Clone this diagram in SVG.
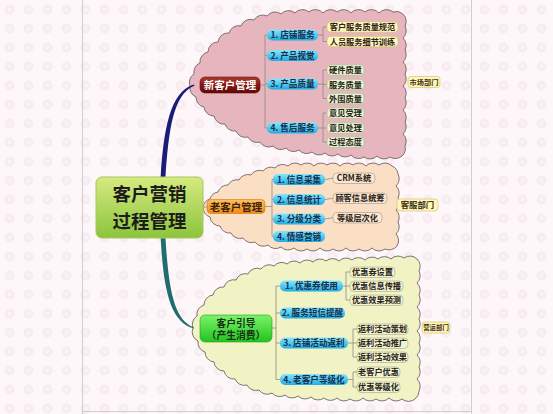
<svg xmlns="http://www.w3.org/2000/svg" width="553" height="414" viewBox="0 0 553 414">
<defs>
<pattern id="bgp" width="19" height="19" patternUnits="userSpaceOnUse">
<rect width="19" height="19" fill="#fdf7fa"/>
<circle cx="9.5" cy="9.5" r="5" fill="#f8ebf1"/>
<circle cx="9.5" cy="9.5" r="2" fill="#fcf3f7"/>
</pattern>
<linearGradient id="gCenter" x1="0" y1="0" x2="0" y2="1"><stop offset="0" stop-color="#d6ea80"/><stop offset="1" stop-color="#8cc43c"/></linearGradient>
<linearGradient id="gRed" x1="0" y1="0" x2="0" y2="1"><stop offset="0" stop-color="#b23a2a"/><stop offset="0.5" stop-color="#8a1510"/><stop offset="1" stop-color="#5e0808"/></linearGradient>
<linearGradient id="gOrange" x1="0" y1="0" x2="0" y2="1"><stop offset="0" stop-color="#ffc060"/><stop offset="1" stop-color="#f08a12"/></linearGradient>
<linearGradient id="gGreen" x1="0" y1="0" x2="0" y2="1"><stop offset="0" stop-color="#7cf26a"/><stop offset="1" stop-color="#22c41e"/></linearGradient>
<linearGradient id="gBlue" x1="0" y1="0" x2="0" y2="1"><stop offset="0" stop-color="#8ae4fb"/><stop offset="1" stop-color="#1eaee6"/></linearGradient>
</defs>
<style>
text{font-family:"Noto Sans CJK SC","Noto Sans",sans-serif;font-weight:bold;}
.cloud{stroke:#6e6466;stroke-width:0.9;}
.blue{fill:url(#gBlue);}
.bt{font-size:8.6px;fill:#15304c;text-anchor:middle;}
.ct{font-size:8.2px;fill:#2a2418;text-anchor:middle;}
.yel{fill:#fff7bf;stroke:#d9c372;stroke-width:0.8;}
.grn{fill:#e6f4d3;stroke:#b3c59a;stroke-width:0.8;}
.bei{fill:#fbe7d3;stroke:#b9a78f;stroke-width:0.8;}
.lgr{fill:#f1f4d2;stroke:#b7b892;stroke-width:0.8;}
.dep{fill:#fff6b8;stroke:#dccb78;stroke-width:0.8;}
.ln{stroke:#8d8a86;stroke-width:0.8;fill:none;}
</style>
<rect width="553" height="414" fill="url(#bgp)"/>
<g id="frame" stroke="#d2cdcf" stroke-width="1" fill="none">
<line x1="82.5" y1="0" x2="82.5" y2="414"/>
<line x1="471.5" y1="0" x2="471.5" y2="414"/>
<line x1="82" y1="411.5" x2="472" y2="411.5"/>
</g>
<g id="clouds">
<path class="cloud" fill="#e7b5bd" d="M190,86 A10,10 0 0 1 194,74 A10,10 0 0 1 200,63 A10,10 0 0 1 208,52 A10,10 0 0 1 218,42 A10,10 0 0 1 229,33 A10,10 0 0 1 241,26 A10,10 0 0 1 254,20 A10,10 0 0 1 267,16 A10,10 0 0 1 281,14 A10,10 0 0 1 295,13 A10,10 0 0 1 309,12 A10,10 0 0 1 323,13 A10,10 0 0 1 337,12 A10,10 0 0 1 351,13 A10,10 0 0 1 365,12 A10,10 0 0 1 379,13 A10,10 0 0 1 393,12 A10,10 0 0 1 403,14 A10,10 0 0 1 405,26 A10,10 0 0 1 403,38 A10,10 0 0 1 405,50 A10,10 0 0 1 403,62 A10,10 0 0 1 405,74 A10,10 0 0 1 403,86 A10,10 0 0 1 405,98 A10,10 0 0 1 403,110 A10,10 0 0 1 405,122 A10,10 0 0 1 403,134 A10,10 0 0 1 405,146 A10,10 0 0 1 402,156 A10,10 0 0 1 390,157 A10,10 0 0 1 377,156 A10,10 0 0 1 364,157 A10,10 0 0 1 351,155 A10,10 0 0 1 338,154 A10,10 0 0 1 325,153 A10,10 0 0 1 312,152 A10,10 0 0 1 299,150 A10,10 0 0 1 286,148 A10,10 0 0 1 273,146 A10,10 0 0 1 260,142 A10,10 0 0 1 248,137 A10,10 0 0 1 236,131 A10,10 0 0 1 225,124 A10,10 0 0 1 214,116 A10,10 0 0 1 204,107 A10,10 0 0 1 196,97 A10,10 0 0 1 190,86 Z"/>
<path class="cloud" fill="#fbdfc5" d="M203,207 A10,10 0 0 1 210,199 A10,10 0 0 1 218,192 A10,10 0 0 1 228,185 A10,10 0 0 1 239,180 A10,10 0 0 1 251,175 A10,10 0 0 1 263,171 A10,10 0 0 1 275,168 A10,10 0 0 1 288,166 A10,10 0 0 1 301,165 A10,10 0 0 1 314,166 A10,10 0 0 1 327,165 A10,10 0 0 1 340,166 A10,10 0 0 1 353,165 A10,10 0 0 1 366,166 A10,10 0 0 1 379,165 A10,10 0 0 1 392,166 A10,10 0 0 1 398,174 A10,10 0 0 1 396,186 A10,10 0 0 1 398,198 A10,10 0 0 1 396,210 A10,10 0 0 1 398,222 A10,10 0 0 1 396,234 A10,10 0 0 1 397,246 A10,10 0 0 1 385,249 A10,10 0 0 1 372,248 A10,10 0 0 1 359,249 A10,10 0 0 1 346,248 A10,10 0 0 1 333,249 A10,10 0 0 1 320,248 A10,10 0 0 1 307,249 A10,10 0 0 1 294,248 A10,10 0 0 1 281,247 A10,10 0 0 1 268,245 A10,10 0 0 1 255,242 A10,10 0 0 1 243,238 A10,10 0 0 1 231,233 A10,10 0 0 1 220,226 A10,10 0 0 1 210,217 A10,10 0 0 1 203,207 Z"/>
<path class="cloud" fill="#f2f3c4" d="M193,328 A10,10 0 0 1 197,316 A10,10 0 0 1 204,305 A10,10 0 0 1 213,295 A10,10 0 0 1 224,287 A10,10 0 0 1 236,280 A10,10 0 0 1 248,274 A10,10 0 0 1 261,269 A10,10 0 0 1 274,266 A10,10 0 0 1 287,264 A10,10 0 0 1 300,263 A10,10 0 0 1 313,262 A10,10 0 0 1 326,261 A10,10 0 0 1 339,261 A10,10 0 0 1 352,260 A10,10 0 0 1 365,260 A10,10 0 0 1 378,259 A10,10 0 0 1 391,259 A10,10 0 0 1 404,258 A10,10 0 0 1 417,259 A10,10 0 0 1 419,271 A10,10 0 0 1 417,283 A10,10 0 0 1 419,295 A10,10 0 0 1 417,307 A10,10 0 0 1 419,319 A10,10 0 0 1 417,331 A10,10 0 0 1 419,343 A10,10 0 0 1 417,355 A10,10 0 0 1 419,367 A10,10 0 0 1 417,379 A10,10 0 0 1 419,391 A10,10 0 0 1 415,399 A10,10 0 0 1 402,399 A10,10 0 0 1 389,398 A10,10 0 0 1 376,399 A10,10 0 0 1 363,398 A10,10 0 0 1 350,399 A10,10 0 0 1 337,398 A10,10 0 0 1 324,398 A10,10 0 0 1 311,397 A10,10 0 0 1 298,396 A10,10 0 0 1 285,395 A10,10 0 0 1 272,393 A10,10 0 0 1 259,390 A10,10 0 0 1 247,385 A10,10 0 0 1 235,379 A10,10 0 0 1 224,371 A10,10 0 0 1 214,362 A10,10 0 0 1 205,352 A10,10 0 0 1 198,341 A10,10 0 0 1 193,328 Z"/>
</g>
<g id="connectors">
<path fill="#1b1b78" d="M160.6,178 C163.5,130 170,91 194,84.4 L194.4,85.8 C173,94 168.6,131 165.4,178 Z"/>
<path fill="#1f6d70" d="M160.6,237 C163.5,290 170,322 194,328.6 L193.8,327.4 C174,320 168.6,290 165.4,237 Z"/>
<line class="ln" x1="202" y1="207" x2="208" y2="207"/>
<g class="ln">
<path d="M260,85 H265 M265,35 V128 M265,35 H267 M265,55.5 H267 M265,84 H267 M265,128 H267"/>
<path d="M318,35 H323 M323,27 V41.5 M323,27 H327 M323,41.5 H327"/>
<path d="M318,84 H323 M323,70 V98.5 M323,70 H327 M323,84.5 H327 M323,98.5 H327"/>
<path d="M318,128 H323 M323,113 V142 M323,113 H327 M323,128 H327 M323,142 H327"/>
<path d="M265,206.5 H272 M272,179.5 V236.5 M272,179.5 H273 M272,199.5 H273 M272,219 H273 M272,236.5 H273"/>
<path d="M325,179.5 L333,178.2 M325,199.5 L333,198.2 M325,219 L333,217.7"/>
<path d="M272,328 H276 M276,286 V379.5 M276,286 H280 M276,313 H280 M276,343 H280 M276,379.5 H280"/>
<path d="M343,286 H346 M346,272 V300 M346,272 H350 M346,286 H350 M346,300 H350"/>
<path d="M348,343 H353 M353,329 V357 M353,329 H357 M353,343 H357 M353,357 H357"/>
<path d="M348,379.5 H353 M353,372 V387 M353,372 H357 M353,387 H357"/>
</g>
</g>
<g id="center">
<rect x="96" y="177" width="107" height="61" rx="6" fill="url(#gCenter)" stroke="#a6c860" stroke-width="1"/>
<text x="149.5" y="201" font-size="18.5" fill="#1c1c1c" text-anchor="middle">客户营销</text>
<text x="149.5" y="228" font-size="18.5" fill="#1c1c1c" text-anchor="middle">过程管理</text>
</g>
<g id="new-customer">
<rect x="200" y="77" width="60" height="16" rx="5" fill="url(#gRed)" stroke="#5a1010" stroke-width="0.6"/>
<text x="230" y="89" font-size="10.5" fill="#ffffff" text-anchor="middle">新客户管理</text>
</g>
<g id="n1-1"><rect class="blue" x="267" y="29.5" width="51" height="11" rx="5"/><text class="bt" x="292.5" y="38.2">1. 店铺服务</text></g>
<g id="n1-2"><rect class="blue" x="267" y="50" width="51" height="11" rx="5"/><text class="bt" x="292.5" y="58.7">2. 产品视觉</text></g>
<g id="n1-3"><rect class="blue" x="267" y="78.5" width="51" height="11" rx="5"/><text class="bt" x="292.5" y="87.2">3. 产品质量</text></g>
<g id="n1-4"><rect class="blue" x="267" y="122.5" width="51" height="11" rx="5"/><text class="bt" x="292.5" y="131.2">4. 售后服务</text></g>
<g id="c1a"><rect class="yel" x="327" y="21.8" width="71" height="10.5" rx="4"/><text class="ct" x="362.5" y="30">客户服务质量规范</text></g>
<g id="c1b"><rect class="yel" x="327" y="36.3" width="71" height="10.5" rx="4"/><text class="ct" x="362.5" y="44.5">人员服务细节训练</text></g>
<g id="c1c"><rect class="grn" x="327" y="64.8" width="37" height="10.5" rx="4"/><text class="ct" x="345.5" y="73">硬件质量</text></g>
<g id="c1d"><rect class="grn" x="327" y="79.3" width="37" height="10.5" rx="4"/><text class="ct" x="345.5" y="87.5">服务质量</text></g>
<g id="c1e"><rect class="grn" x="327" y="93.3" width="37" height="10.5" rx="4"/><text class="ct" x="345.5" y="101.5">外围质量</text></g>
<g id="c1f"><rect class="grn" x="327" y="107.8" width="37" height="10.5" rx="4"/><text class="ct" x="345.5" y="116">意见受理</text></g>
<g id="c1g"><rect class="grn" x="327" y="122.8" width="37" height="10.5" rx="4"/><text class="ct" x="345.5" y="131">意见处理</text></g>
<g id="c1h"><rect class="grn" x="327" y="136.8" width="37" height="10.5" rx="4"/><text class="ct" x="345.5" y="145">过程态度</text></g>
<g id="dept1"><rect class="dep" x="408" y="76.5" width="32" height="11" rx="3"/><text x="424" y="84.7" font-size="7.2" fill="#3a3020" text-anchor="middle">市场部门</text></g>
<g id="old-customer">
<rect x="207" y="199.5" width="58" height="14" rx="4" fill="url(#gOrange)" stroke="#d07a10" stroke-width="0.6"/>
<text x="236" y="210.5" font-size="10.5" fill="#3a2410" text-anchor="middle">老客户管理</text>
</g>
<g id="n2-1"><rect class="blue" x="273" y="174" width="52" height="11" rx="5"/><text class="bt" x="299" y="182.7">1. 信息采集</text></g>
<g id="n2-2"><rect class="blue" x="273" y="194" width="52" height="11" rx="5"/><text class="bt" x="299" y="202.7">2. 信息统计</text></g>
<g id="n2-3"><rect class="blue" x="273" y="213.5" width="52" height="11" rx="5"/><text class="bt" x="299" y="222.2">3. 分级分类</text></g>
<g id="n2-4"><rect class="blue" x="273" y="231" width="52" height="11" rx="5"/><text class="bt" x="299" y="239.7">4. 情感营销</text></g>
<g id="c2a"><rect class="bei" x="333" y="173" width="42" height="10.5" rx="4"/><text class="ct" x="354" y="181.2">CRM系统</text></g>
<g id="c2b"><rect class="bei" x="333" y="193" width="54" height="10.5" rx="4"/><text class="ct" x="360" y="201.2">顾客信息统筹</text></g>
<g id="c2c"><rect class="bei" x="333" y="212.5" width="49" height="10.5" rx="4"/><text class="ct" x="357.5" y="220.7">等级层次化</text></g>
<g id="dept2"><rect class="dep" x="397" y="199" width="41" height="12" rx="3"/><text x="417.5" y="208.2" font-size="8.4" fill="#3a3020" text-anchor="middle">客服部门</text></g>
<g id="guide">
<rect x="200" y="315" width="72" height="27" rx="5" fill="url(#gGreen)" stroke="#20a020" stroke-width="0.6"/>
<text x="236" y="326.5" font-size="9.8" fill="#163016" text-anchor="middle">客户引导</text>
<text x="236" y="339" font-size="9.8" fill="#163016" text-anchor="middle">（产生消费）</text>
</g>
<g id="n3-1"><rect class="blue" x="280" y="280.5" width="63" height="11" rx="5"/><text class="bt" x="311.5" y="289.2">1. 优惠券使用</text></g>
<g id="n3-2"><rect class="blue" x="280" y="307.5" width="65" height="11" rx="5"/><text class="bt" x="312.5" y="316.2">2. 服务短信提醒</text></g>
<g id="n3-3"><rect class="blue" x="280" y="337.5" width="68" height="11" rx="5"/><text class="bt" x="314" y="346.2">3. 店铺活动返利</text></g>
<g id="n3-4"><rect class="blue" x="280" y="374" width="68" height="11" rx="5"/><text class="bt" x="314" y="382.7">4. 老客户等级化</text></g>
<g id="c3a"><rect class="lgr" x="350" y="267" width="45" height="10.5" rx="4"/><text class="ct" x="372.5" y="275.2">优惠券设置</text></g>
<g id="c3b"><rect class="lgr" x="350" y="281" width="53" height="10.5" rx="4"/><text class="ct" x="376.5" y="289.2">优惠信息传播</text></g>
<g id="c3c"><rect class="lgr" x="350" y="295" width="53" height="10.5" rx="4"/><text class="ct" x="376.5" y="303.2">优惠效果预测</text></g>
<g id="c3d"><rect class="lgr" x="357" y="324" width="51" height="10.5" rx="4"/><text class="ct" x="382.5" y="332.2">返利活动策划</text></g>
<g id="c3e"><rect class="lgr" x="357" y="338" width="51" height="10.5" rx="4"/><text class="ct" x="382.5" y="346.2">返利活动推广</text></g>
<g id="c3f"><rect class="lgr" x="357" y="352" width="51" height="10.5" rx="4"/><text class="ct" x="382.5" y="360.2">返利活动效果</text></g>
<g id="c3g"><rect class="lgr" x="357" y="367" width="43" height="10.5" rx="4"/><text class="ct" x="378.5" y="375.2">老客户优惠</text></g>
<g id="c3h"><rect class="lgr" x="357" y="382" width="43" height="10.5" rx="4"/><text class="ct" x="378.5" y="390.2">优惠等级化</text></g>
<g id="dept3"><rect class="dep" x="422" y="322" width="28" height="11" rx="3"/><text x="436" y="330" font-size="6.4" fill="#3a3020" text-anchor="middle">营运部门</text></g>
</svg>
